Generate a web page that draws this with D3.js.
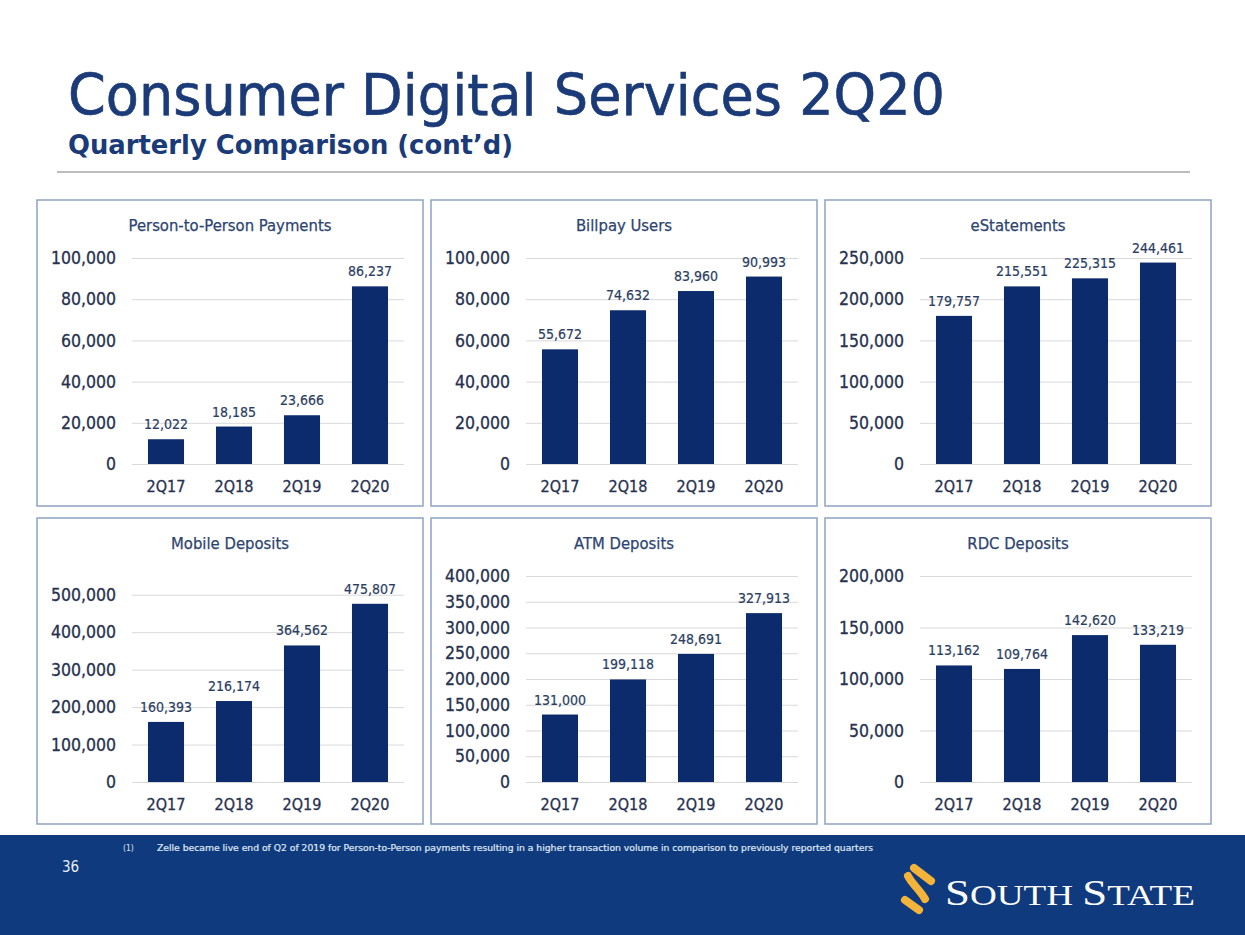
<!DOCTYPE html>
<html>
<head>
<meta charset="utf-8">
<script src="https://cdn.jsdelivr.net/npm/d3@7"></script>
<style>
  body { margin: 0; background: #fff; }
  svg text { font-family: "DejaVu Sans Condensed", "DejaVu Sans", sans-serif; font-stretch: condensed; }
</style>
</head>
<body>
<svg id="chart" width="1245" height="935"></svg>
<script>
// quarters on every x axis
const quarters = ['2Q17', '2Q18', '2Q19', '2Q20'];

// series, one per panel
const p2pPayments = [12022, 18185, 23666, 86237];
const billpayUsers = [55672, 74632, 83960, 90993];
const eStatements = [179757, 215551, 225315, 244461];
const mobileDeposits = [160393, 216174, 364562, 475807];
const atmDeposits = [131000, 199118, 248691, 327913];
const rdcDeposits = [113162, 109764, 142620, 133219];

const panelTitles = ['Person-to-Person Payments', 'Billpay Users', 'eStatements',
  'Mobile Deposits', 'ATM Deposits', 'RDC Deposits'];
const panelSeries = [p2pPayments, billpayUsers, eStatements, mobileDeposits, atmDeposits, rdcDeposits];

// y axis settings (domain top, last tick, tick step)
const axisMax = [100000, 100000, 250000, 550000, 400000, 200000];
const tickMax = [100000, 100000, 250000, 500000, 400000, 200000];
const tickStep = [20000, 20000, 50000, 100000, 50000, 50000];

const footnote = 'Zelle became live end of Q2 of 2019 for Person-to-Person payments resulting in a higher transaction volume in comparison to previously reported quarters';

const svg = d3.select('#chart');
const navy = '#1b3a78';
const barColor = '#0c2b6c';
const labelColor = '#2c3d62';
const tickColor = '#27314f';

// header
svg.append('text')
  .attr('x', 68).attr('y', 115)
  .attr('font-size', 57).attr('fill', navy)
  .attr('stroke', navy).attr('stroke-width', 0.6)
  .attr('textLength', 877).attr('lengthAdjust', 'spacingAndGlyphs')
  .text('Consumer Digital Services 2Q20');

svg.append('text')
  .attr('x', 68).attr('y', 154)
  .attr('font-size', 27).attr('font-weight', 'bold').attr('fill', navy)
  .attr('textLength', 445).attr('lengthAdjust', 'spacingAndGlyphs')
  .text('Quarterly Comparison (cont\u2019d)');

svg.append('line')
  .attr('x1', 57).attr('x2', 1190).attr('y1', 172).attr('y2', 172)
  .attr('stroke', '#a6a6a6').attr('stroke-width', 1.5);

// panels
const panelW = 386, panelH = 306;
const colX = [37, 431, 825];
const rowY = [200, 518];
const plot = {left: 95, right: 19, top: 58, bottom: 42};

panelSeries.forEach((values, i) => {
  const px = colX[i % 3], py = rowY[Math.floor(i / 3)];
  const g = svg.append('g').attr('transform', 'translate(' + px + ',' + py + ')');

  g.append('rect')
    .attr('x', 0).attr('y', 0).attr('width', panelW).attr('height', panelH)
    .attr('fill', '#fff').attr('stroke', '#8fa2c4').attr('stroke-width', 1.5);

  g.append('text')
    .attr('x', panelW / 2).attr('y', 31)
    .attr('text-anchor', 'middle')
    .attr('font-size', 16.5).attr('fill', '#2e4470')
    .attr('stroke', '#2e4470').attr('stroke-width', 0.25)
    .text(panelTitles[i]);

  const w = panelW - plot.left - plot.right;
  const h = panelH - plot.top - plot.bottom;
  const inner = g.append('g').attr('transform', 'translate(' + plot.left + ',' + plot.top + ')');

  const x = d3.scaleBand().domain(quarters).range([0, w]).paddingInner(0.47).paddingOuter(0.235);
  const y = d3.scaleLinear().domain([0, axisMax[i]]).range([h, 0]);

  const yAxis = inner.append('g')
    .call(d3.axisLeft(y)
      .tickValues(d3.range(0, tickMax[i] + 1, tickStep[i]))
      .tickSize(-w).tickPadding(16)
      .tickFormat(d3.format(',')));
  yAxis.select('.domain').remove();
  yAxis.selectAll('line').attr('stroke', '#d9d9d9').attr('stroke-width', 1);
  yAxis.selectAll('text').attr('font-size', 17.5).attr('fill', tickColor)
    .attr('stroke', tickColor).attr('stroke-width', 0.3)
    .style('font-family', '"DejaVu Sans Condensed", "DejaVu Sans", sans-serif');

  const xAxis = inner.append('g')
    .attr('transform', 'translate(0,' + h + ')')
    .call(d3.axisBottom(x).tickSize(0).tickPadding(17));
  xAxis.select('.domain').remove();
  xAxis.selectAll('text').attr('font-size', 16).attr('fill', tickColor)
    .attr('stroke', tickColor).attr('stroke-width', 0.3)
    .style('font-family', '"DejaVu Sans Condensed", "DejaVu Sans", sans-serif');

  inner.selectAll('rect.bar')
    .data(values)
    .join('rect')
    .attr('class', 'bar')
    .attr('x', (d, j) => x(quarters[j]))
    .attr('y', d => y(d))
    .attr('width', x.bandwidth())
    .attr('height', d => h - y(d))
    .attr('fill', barColor);

  inner.selectAll('text.value')
    .data(values)
    .join('text')
    .attr('class', 'value')
    .attr('x', (d, j) => x(quarters[j]) + x.bandwidth() / 2)
    .attr('y', d => y(d) - 10)
    .attr('text-anchor', 'middle')
    .attr('font-size', 14).attr('fill', labelColor)
    .attr('stroke', labelColor).attr('stroke-width', 0.2)
    .text(d => d3.format(',')(d));
});

// footer band
svg.append('rect')
  .attr('x', 0).attr('y', 835).attr('width', 1245).attr('height', 100)
  .attr('fill', '#0f3a7e');

svg.append('text')
  .attr('x', 123).attr('y', 851)
  .attr('font-size', 8.5).attr('fill', '#dfe6f3')
  .text('(1)');
svg.append('text')
  .attr('x', 157).attr('y', 851)
  .attr('font-size', 8.5).attr('fill', '#dfe6f3')
  .attr('stroke', '#dfe6f3').attr('stroke-width', 0.2)
  .attr('textLength', 716).attr('lengthAdjust', 'spacingAndGlyphs')
  .text(footnote);

svg.append('text')
  .attr('x', 62).attr('y', 872)
  .attr('font-size', 15).attr('fill', '#e8edf6')
  .text('36');

// logo mark: slanted ribbons forming an S
const logo = svg.append('g')
  .attr('fill', 'none').attr('stroke', '#f4b43a')
  .attr('stroke-width', 8).attr('stroke-linecap', 'round');
logo.append('path').attr('d', 'M914,868 L931,881');
logo.append('path').attr('d', 'M908,876 C912,884 920,890 925,899');
logo.append('path').attr('d', 'M905,900 L919,910');

const brand = svg.append('text')
  .attr('x', 945).attr('y', 905)
  .attr('fill', '#ffffff')
  .attr('textLength', 250).attr('lengthAdjust', 'spacingAndGlyphs')
  .style('font-family', '"Liberation Serif", "DejaVu Serif", serif')
  .style('font-stretch', 'normal');
brand.append('tspan').attr('font-size', 35).text('S');
brand.append('tspan').attr('font-size', 29).text('OUTH ');
brand.append('tspan').attr('font-size', 35).text('S');
brand.append('tspan').attr('font-size', 29).text('TATE');
</script>
</body>
</html>
